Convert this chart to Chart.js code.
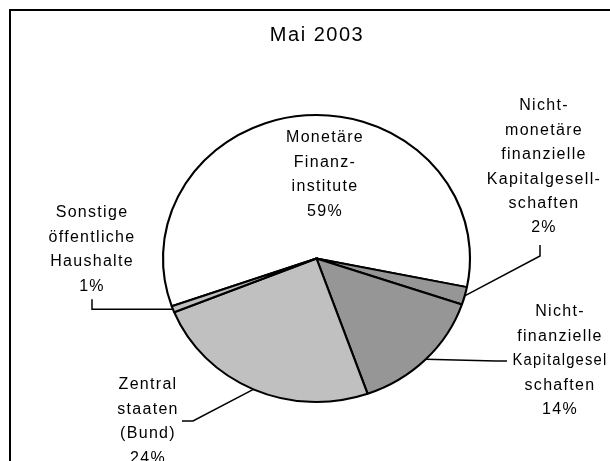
<!DOCTYPE html>
<html>
<head>
<meta charset="utf-8">
<script src="https://cdn.jsdelivr.net/npm/chart.js@4.4.0/dist/chart.umd.min.js"></script>
<style>
  html, body { margin: 0; padding: 0; background: #fff; }
</style>
</head>
<body>
<canvas id="pieChart" width="610" height="461"></canvas>
<script>
// ── Data ──────────────────────────────────────────────────────────────────
const chartTitle = 'Mai 2003';
const categories = [
    ['Monetäre', 'Finanz-', 'institute'],
    ['Nicht-', 'monetäre', 'finanzielle', 'Kapitalgesell-', 'schaften'],
    ['Nicht-', 'finanzielle', 'Kapitalgesel', 'schaften'],
    ['Zentral', 'staaten', '(Bund)'],
    ['Sonstige', 'öffentliche', 'Haushalte']
];
const shares = [58.6, 2.0, 14.4, 24.3, 0.7];
const sliceColors = ['#FFFFFF', '#969696', '#969696', '#C0C0C0', '#C0C0C0'];

// label layout: centre x, first line y, max line width, leader elbows ('h' = horizontal from start)
const labelPos = [
    { x: 325, y: 138, w: 130, leader: null },
    { x: 544, y: 106, w: 130, leader: [[540, 256], [540, 245]] },
    { x: 560, y: 312, w: 95,  leader: [[496, 361], [507, 361]] },
    { x: 148, y: 385, w: 130, leader: [[193, 421], [182, 421]] },
    { x: 92,  y: 213, w: 130, leader: 'h' }
];

const stretchX = 153.5 / 143.5;   // the Excel pie is a slightly wide ellipse
const FONT = '"Liberation Sans", Arial, sans-serif';

// ── Plugins ───────────────────────────────────────────────────────────────
const ellipsePlugin = {
    id: 'ellipse',
    beforeDatasetsDraw(chart) {
        const { ctx } = chart;
        const a = chart.getDatasetMeta(0).data[0];
        ctx.save();
        ctx.translate(a.x, a.y);
        ctx.scale(stretchX, 1);
        ctx.translate(-a.x, -a.y);
    },
    afterDatasetsDraw(chart) {
        chart.ctx.restore();
    }
};

const decorPlugin = {
    id: 'decor',
    afterDraw(chart) {
        const { ctx } = chart;
        const arcs = chart.getDatasetMeta(0).data;
        ctx.save();

        // frame
        ctx.strokeStyle = '#000';
        ctx.lineWidth = 2;
        ctx.beginPath();
        ctx.moveTo(10, 461);
        ctx.lineTo(10, 10);
        ctx.lineTo(610, 10);
        ctx.stroke();

        // title
        ctx.fillStyle = '#000';
        ctx.textAlign = 'center';
        ctx.textBaseline = 'middle';
        ctx.font = '20px ' + FONT;
        ctx.letterSpacing = '1.5px';
        ctx.fillText(chartTitle, 317, 35);

        // labels + leader lines
        ctx.font = '16px ' + FONT;
        ctx.letterSpacing = '1.3px';
        ctx.lineWidth = 1.5;
        arcs.forEach((arc, i) => {
            const pos = labelPos[i];
            const lines = categories[i].concat(Math.round(shares[i]) + '%');
            lines.forEach((t, k) => ctx.fillText(t, pos.x, pos.y + k * 24.4, pos.w));

            if (!pos.leader) return;
            const mid = (arc.startAngle + arc.endAngle) / 2;
            const r = arc.outerRadius;
            const sx = arc.x + r * stretchX * Math.cos(mid);
            const sy = arc.y + r * Math.sin(mid);
            const pts = pos.leader === 'h' ? [[pos.x, sy], [pos.x, sy - 10]] : pos.leader;
            ctx.beginPath();
            ctx.moveTo(sx, sy);
            pts.forEach(p => ctx.lineTo(p[0], p[1]));
            ctx.stroke();
        });
        ctx.restore();
    }
};

// ── Pie ───────────────────────────────────────────────────────────────────
const pieCtx = document.getElementById('pieChart').getContext('2d');
new Chart(pieCtx, {
    type: 'pie',
    data: {
        labels: categories.map(c => c.join(' ')),
        datasets: [{
            data: shares,
            backgroundColor: sliceColors,
            borderColor: '#000000',
            borderWidth: 2
        }]
    },
    options: {
        responsive: false,
        animation: false,
        devicePixelRatio: 1,
        events: [],
        radius: 143.5,
        rotation: 101.5 - shares[0] * 3.6,
        layout: { padding: { left: 23, top: 56, right: 0, bottom: 0 } },
        plugins: {
            legend: { display: false },
            tooltip: { enabled: false }
        }
    },
    plugins: [ellipsePlugin, decorPlugin]
});
</script>
</body>
</html>
